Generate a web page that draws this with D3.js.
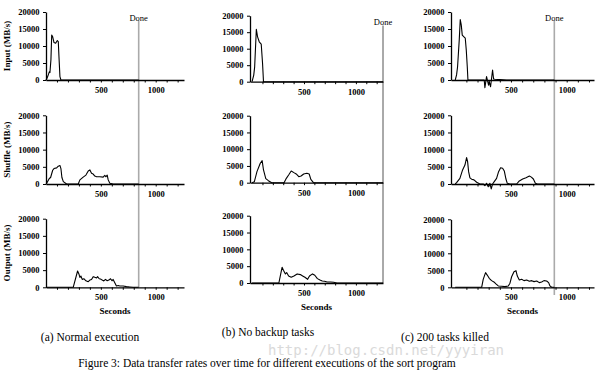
<!DOCTYPE html>
<html>
<head>
<meta charset="utf-8">
<script src="https://cdn.jsdelivr.net/npm/d3@7"></script>
<style>
body { margin: 0; background: #fff; }
svg text { font-family: "Liberation Serif", "Times New Roman", "DejaVu Serif", serif; }
</style>
</head>
<body>
<div id="chart"></div>
<script>
// labels
var rowNames = ["Input (MB/s)", "Shuffle (MB/s)", "Output (MB/s)"];
var yTicks = [0, 5000, 10000, 15000, 20000];
var xMinorTicks = [100, 200, 300, 400, 500, 600, 700, 800, 900, 1000, 1100, 1200];
var xLabelTicks = [500, 1000];
var captions = ["(a) Normal execution", "(b) No backup tasks", "(c) 200 tasks killed"];
var doneTimes = [845, 1261, 889];

// [seconds, MB/s]
var inputNormal = [[0,0],[10,600],[21,1500],[30,2400],[36,2200],[45,6000],[52,13200],[61,12700],[73,11000],[88,10800],[103,11600],[112,11300],[118,7000],[127,1000],[136,0],[845,0]];
var shuffleNormal = [[0,0],[6,200],[30,1600],[42,1900],[61,4000],[73,4500],[97,4700],[112,5200],[127,5400],[136,4500],[145,1900],[158,700],[188,0],[294,0],[309,1200],[339,2000],[364,2600],[385,3800],[400,4100],[415,3100],[430,2900],[445,2300],[461,2100],[491,2100],[521,2000],[536,2500],[545,2100],[558,2600],[567,1200],[582,200],[612,0],[845,0]];
var outputNormal = [[0,0],[248,0],[288,4750],[300,3900],[309,2900],[318,3300],[330,2300],[345,2500],[364,1900],[385,1650],[400,2100],[415,2300],[430,3100],[445,2900],[461,2700],[470,3100],[485,2500],[497,2400],[512,2100],[527,1850],[542,2300],[558,1900],[573,2100],[588,2500],[603,1900],[612,2300],[627,1350],[642,400],[658,500],[673,400],[703,400],[733,200],[764,100],[794,0],[845,0]];

var inputNoBackup = [[0,0],[16,2000],[25,4500],[41,15900],[53,13600],[69,12100],[88,11400],[101,5500],[110,0],[1261,0]];
var shuffleNoBackup = [[0,0],[22,300],[47,3300],[79,5800],[97,6600],[110,3800],[132,1200],[157,600],[189,0],[308,0],[330,1300],[352,2300],[377,3500],[403,3000],[425,2600],[450,1800],[472,2000],[497,2600],[528,2800],[550,2600],[566,1000],[591,0],[1261,0]];
var outputNoBackup = [[0,0],[258,0],[274,2400],[289,4650],[302,3800],[321,2700],[333,3100],[352,2100],[377,1700],[403,2100],[434,2700],[465,2500],[487,2100],[509,1700],[535,1100],[553,2100],[582,2700],[604,2300],[629,1300],[654,900],[676,600],[698,500],[723,300],[755,300],[786,200],[818,0],[1261,0]];

var inputKilled = [[0,0],[12,1500],[21,3900],[36,11800],[45,17800],[54,16200],[63,13200],[78,12700],[90,12300],[99,8800],[108,3900],[114,0],[260,0],[266,-2250],[281,1000],[299,-1500],[305,-500],[317,-2000],[335,2950],[344,300],[356,200],[401,100],[461,0],[889,0]];
var shuffleKilled = [[0,0],[12,400],[42,1650],[66,4100],[87,5500],[102,7700],[111,6500],[120,3600],[132,1800],[147,1400],[168,1200],[192,500],[222,0],[251,0],[266,-500],[281,200],[296,-800],[311,200],[323,-1450],[335,0],[350,700],[371,1650],[389,3600],[407,4750],[425,4600],[440,3800],[455,1450],[467,200],[491,0],[551,0],[575,900],[605,1450],[635,1850],[665,2300],[683,2000],[701,1450],[719,200],[737,0],[889,0]];
var outputKilled = [[0,0],[237,0],[251,2350],[272,4300],[287,3600],[305,2650],[326,1960],[347,1570],[365,1000],[386,400],[416,300],[446,200],[476,400],[491,1200],[506,3100],[527,4600],[545,4900],[557,3300],[575,2150],[596,2350],[617,1960],[641,2150],[665,1760],[686,1960],[707,1670],[731,1860],[754,1370],[775,1570],[796,1960],[820,1860],[838,1370],[850,400],[865,0],[889,0]];

var W = 604, H = 372;
var serif = "'Liberation Serif', 'Times New Roman', 'DejaVu Serif', serif";

// panel geometry (pixels)
var panels = [
	{ series: [inputNormal, shuffleNormal, outputNormal], done: doneTimes[0], caption: captions[0],
	  left: 46, right: 184, dom: [0, 1258], tops: [12, 115.3, 218.7], bottoms: [80, 184, 287.3],
	  doneTop: 21, doneBottom: 287, doneColor: "#aaaaaa", doneWidth: 1.6, capX: 90, capY: 340.5, secY: 314 },
	{ series: [inputNoBackup, shuffleNoBackup, outputNoBackup], done: doneTimes[1], caption: captions[1],
	  left: 250, right: 383, dom: [-20, 1261], tops: [15.7, 115.7, 215.7], bottoms: [81.7, 182.7, 283],
	  doneTop: 25.5, doneBottom: 283, doneColor: "#555555", doneWidth: 1, capX: 268, capY: 336, secY: 309.5 },
	{ series: [inputKilled, shuffleKilled, outputKilled], done: doneTimes[2], caption: captions[2],
	  left: 451, right: 594, dom: [-38, 1245], tops: [12, 115.3, 219.3], bottoms: [80, 184, 287.3],
	  doneTop: 21, doneBottom: 295, doneColor: "#aaaaaa", doneWidth: 1.6, capX: 445, capY: 340.5, secY: 313.5 }
];

var svg = d3.select("#chart")
	.append("svg")
	.attr("width", W)
	.attr("height", H)
	.style("font-family", serif);

function serifText(sel) {
	return sel.style("font-family", serif).attr("fill", "#000");
}

panels.forEach(function(p, pi) {
	var x = d3.scaleLinear().domain(p.dom).range([p.left, p.right]);

	// done marker
	svg.append("line")
		.attr("x1", x(p.done)).attr("x2", x(p.done))
		.attr("y1", p.doneTop).attr("y2", p.doneBottom)
		.attr("stroke", p.doneColor)
		.attr("stroke-width", p.doneWidth);

	serifText(svg.append("text"))
		.text("Done")
		.attr("x", x(p.done))
		.attr("y", p.doneTop - 0.5)
		.attr("text-anchor", "middle")
		.attr("font-size", "8.5px");

	p.series.forEach(function(data, ri) {
		var y = d3.scaleLinear().domain([0, 20000]).range([p.bottoms[ri], p.tops[ri]]);

		var yAxis = svg.append("g")
			.attr("transform", "translate(" + p.left + ",0)")
			.call(d3.axisLeft(y).tickValues(yTicks).tickFormat(d3.format("d"))
				.tickSize(3).tickSizeOuter(0).tickPadding(3.5));

		var xAxis = svg.append("g")
			.attr("transform", "translate(0," + p.bottoms[ri] + ")")
			.call(d3.axisBottom(x)
				.tickValues(xMinorTicks.filter(function(d) { return d <= p.dom[1]; }))
				.tickFormat(function(d) { return xLabelTicks.indexOf(d) >= 0 ? d : ""; })
				.tickSize(2.5).tickSizeOuter(0).tickPadding(4.5));

		[yAxis, xAxis].forEach(function(a) {
			a.attr("font-family", null).attr("font-size", null);
			a.select(".domain").attr("stroke", "#000").attr("stroke-width", 1.3);
			a.selectAll(".tick line").attr("stroke", "#000").attr("stroke-width", 1);
			serifText(a.selectAll(".tick text"))
				.attr("font-size", "8.5px")
				.attr("font-weight", "bold");
		});

		svg.append("path")
			.datum(data)
			.attr("fill", "none")
			.attr("stroke", "#000")
			.attr("stroke-width", 1.1)
			.attr("stroke-linejoin", "round")
			.attr("d", d3.line()
				.x(function(d) { return x(d[0]); })
				.y(function(d) { return y(d[1]); }));

		if (pi === 0) {
			var cy = (p.tops[ri] + p.bottoms[ri]) / 2;
			serifText(svg.append("text"))
				.text(rowNames[ri])
				.attr("transform", "translate(10," + cy + ") rotate(-90)")
				.attr("text-anchor", "middle")
				.attr("font-size", "9px")
				.attr("font-weight", "bold");
		}
	});

	serifText(svg.append("text"))
		.text("Seconds")
		.attr("x", (p.left + p.right) / 2)
		.attr("y", p.secY)
		.attr("text-anchor", "middle")
		.attr("font-size", "9px")
		.attr("font-weight", "bold");

	serifText(svg.append("text"))
		.text(p.caption)
		.attr("x", p.capX)
		.attr("y", p.capY)
		.attr("text-anchor", "middle")
		.attr("font-size", "11.5px");
});

// blog watermark
svg.append("text")
	.text("http://blog.csdn.net/yyyiran")
	.attr("x", 268)
	.attr("y", 355)
	.style("font-family", "'DejaVu Sans Mono', monospace")
	.attr("font-size", "14px")
	.attr("fill", "#dadada");

serifText(svg.append("text"))
	.text("Figure 3: Data transfer rates over time for different executions of the sort program")
	.attr("x", 267)
	.attr("y", 366.5)
	.attr("text-anchor", "middle")
	.attr("font-size", "11.5px");
</script>
</body>
</html>
